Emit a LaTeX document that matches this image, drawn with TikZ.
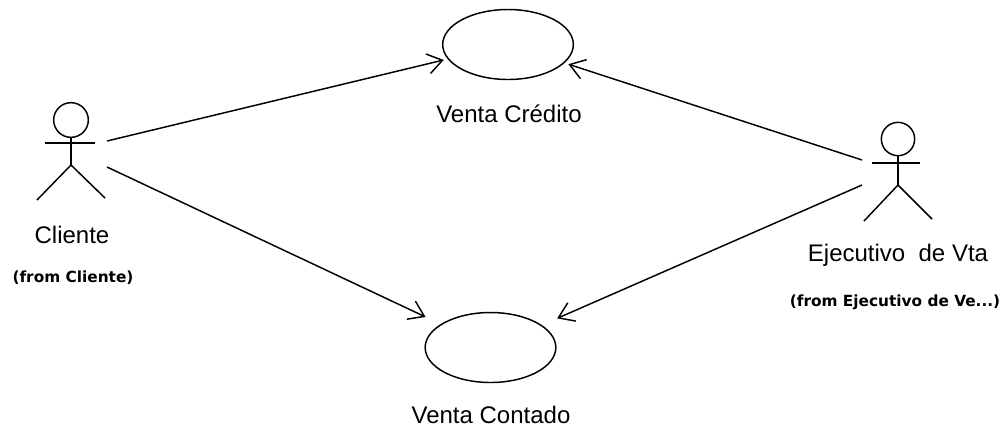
\documentclass[tikz,border=0pt]{standalone}
\usepackage{fontspec}
\setmainfont{Liberation Sans}
\newfontfamily\fromfont{DejaVu Sans}
\tikzset{
  usecase/.style={draw,line width=1.1pt,ellipse,minimum width=98pt,minimum height=52.5pt,inner sep=0pt},
  actorpart/.style={line width=1.1pt},
  assoc/.style={line width=1.1pt,-{Straight Barb[length=11pt,width=15pt,line width=1.1pt]}},
  caselabel/.style={inner sep=0pt,font=\fontsize{18}{20}\selectfont},
  fromlabel/.style={inner sep=0pt,font=\fromfont\fontsize{11.5}{13}\selectfont\bfseries}
}
\usetikzlibrary{shapes.geometric,arrows.meta}
\begin{document}
\begin{tikzpicture}[x=0.75pt,y=0.75pt,yscale=-1,xscale=1]
\useasboundingbox (0,0) rectangle (1005,430);

% use cases
\node [usecase] (credito) at (508,44.5) {};
\node [usecase] (contado) at (490.5,347.5) {};
\node [caselabel] (creditolabel) at (509,114) {Venta Crédito};
\node [caselabel] (contadolabel) at (491,415) {Venta Contado};

% actor left
\node [draw,circle,actorpart,minimum size=26pt,inner sep=0pt] (clientehead) at (71,120) {};
\coordinate (clientehip) at (71,165);
\coordinate (clientearml) at (45,143);
\coordinate (clientearmr) at (95,143);
\coordinate (clientefootl) at (37,200);
\coordinate (clientefootr) at (105,198);
\draw [actorpart] (clientehead) -- (clientehip);
\draw [actorpart] (clientearml) -- (clientearmr);
\draw [actorpart] (clientefootl) -- (clientehip) -- (clientefootr);
\node [caselabel] (clientelabel) at (72,235) {Cliente};
\node [fromlabel] (clientefrom) at (73,278) {(from Cliente)};

% actor right
\node [draw,circle,actorpart,minimum size=25pt,inner sep=0pt] (ejecutivohead) at (898,139) {};
\coordinate (ejecutivohip) at (898,185);
\coordinate (ejecutivoarml) at (872,163);
\coordinate (ejecutivoarmr) at (920,163);
\coordinate (ejecutivofootl) at (864,221);
\coordinate (ejecutivofootr) at (932,219);
\draw [actorpart] (ejecutivohead) -- (ejecutivohip);
\draw [actorpart] (ejecutivoarml) -- (ejecutivoarmr);
\draw [actorpart] (ejecutivofootl) -- (ejecutivohip) -- (ejecutivofootr);
\node [caselabel] (ejecutivolabel) at (898,255) {Ejecutivo\ \ de Vta};
\node [fromlabel] (ejecutivofrom) at (895,302) {(from Ejecutivo de Ve...)};

% associations
\coordinate (clienteout1) at (107,141);
\coordinate (clienteout2) at (107,167);
\coordinate (ejecutivoout1) at (862,160);
\coordinate (ejecutivoout2) at (862,185);
\draw [assoc,shorten >=3pt] (clienteout1) -- (credito);
\draw [assoc,shorten >=12.5pt] (clienteout2) -- (contado);
\draw [assoc,shorten >=3pt] (ejecutivoout1) -- (credito);
\draw [assoc,shorten >=12.5pt] (ejecutivoout2) -- (contado);
\end{tikzpicture}
\end{document}
